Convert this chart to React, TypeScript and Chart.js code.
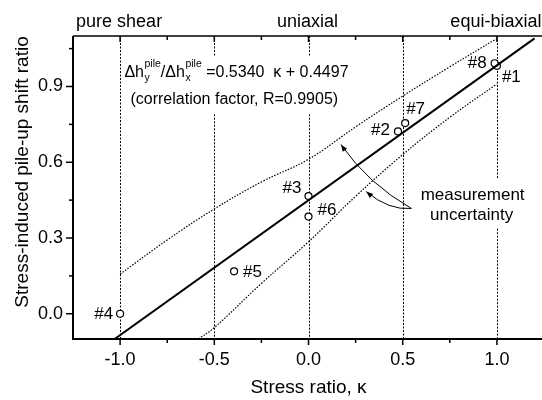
import React, { useEffect, useRef } from 'react';
import { Chart, registerables } from 'chart.js';

Chart.register(...registerables);

// ---- data ----
const pointLabels = ['#1', '#2', '#3', '#4', '#5', '#6', '#7', '#8'];
const pointKappa = [1.0, 0.475, 0.0, -1.0, -0.395, 0.0, 0.513, 0.988];
const pointRatio = [0.982, 0.722, 0.466, 0.0, 0.168, 0.385, 0.755, 0.992];

const fitKappa = [-1.029, 1.2];
const fitRatio = [-0.1, 1.0905];

const upperKappa = [-1, -0.75, -0.5, -0.25, 0, 0.25, 0.5, 0.75, 1];
const upperRatio = [0.157, 0.292, 0.415, 0.522, 0.612, 0.74, 0.862, 0.978, 1.09];
const lowerKappa = [-0.585, -0.5, -0.25, 0, 0.25, 0.5, 0.75, 1];
const lowerRatio = [-0.1, -0.055, 0.12, 0.285, 0.465, 0.63, 0.778, 0.91];

const xMajorTicks = [-1, -0.5, 0, 0.5, 1];
const xMinorTicks = [-0.75, -0.25, 0.25, 0.75];
const yMajorTicks = [0, 0.3, 0.6, 0.9];
const yMinorTicks = [0.15, 0.45, 0.75, 1.05];

const regimeLabels = ['pure shear', 'uniaxial', 'equi-biaxial'];
const regimeKappa = [-1, 0, 1];

const xTitle = 'Stress ratio, κ';
const yTitle = 'Stress-induced pile-up shift ratio';
const eqLine2 = '(correlation factor, R=0.9905)';
const eqTail = ' =0.5340  κ + 0.4497';
const noteLines = ['measurement', 'uncertainty'];

// ---- layout / style (not data) ----
const FONT = "'Liberation Sans', Arial, Helvetica, sans-serif";
const guideGaps: ([number, number] | null)[] = [null, [0.79, 1.02], [0.79, 1.02], null, [0.337, 0.535]];
// label offsets in px relative to the point: [dx, dy, align]
const labelOffsets: [number, number, CanvasTextAlign][] = [
  [5, 12, 'left'],
  [-8, -1, 'right'],
  [-7, -8, 'right'],
  [-7, 1, 'right'],
  [9, 1, 'left'],
  [9, -6, 'left'],
  [1, -14, 'left'],
  [-8, 0, 'right'],
];
const eqAnchor = { k: -0.977, r: 0.936 };
const eqLine2Anchor = { k: -0.945, r: 0.829 };
const noteAnchors = [{ k: 0.871, r: 0.469 }, { k: 0.866, r: 0.39 }];
const arrows = [
  { from: [0.546, 0.417], ctrl: [0.318, 0.514], to: [0.172, 0.67] },
  { from: [0.546, 0.417], ctrl: [0.426, 0.409], to: [0.306, 0.484] },
];

const overlay = {
  id: 'overlay',
  beforeDatasetsDraw(chart: any) {
    const { ctx, chartArea: a, scales } = chart;
    const x = scales.x, y = scales.y;
    ctx.save();
    ctx.strokeStyle = '#000';
    ctx.lineWidth = 1;
    ctx.setLineDash([2, 1.5]);
    xMajorTicks.forEach((k, i) => {
      const px = Math.round(x.getPixelForValue(k)) + 0.5;
      const gap = guideGaps[i];
      const segs = gap
        ? [[a.top, y.getPixelForValue(gap[1])], [y.getPixelForValue(gap[0]), a.bottom]]
        : [[a.top, a.bottom]];
      segs.forEach(([t, b]) => {
        ctx.beginPath();
        ctx.moveTo(px, t);
        ctx.lineTo(px, b);
        ctx.stroke();
      });
    });
    ctx.restore();
  },
  afterDraw(chart: any) {
    const { ctx, chartArea: a, scales } = chart;
    const x = scales.x, y = scales.y;
    ctx.save();
    ctx.strokeStyle = '#000';
    ctx.fillStyle = '#000';
    ctx.setLineDash([]);

    // frame
    ctx.lineWidth = 2;
    ctx.beginPath();
    ctx.moveTo(a.left, a.top);
    ctx.lineTo(a.left, a.bottom);
    ctx.lineTo(a.right, a.bottom);
    ctx.stroke();
    ctx.lineWidth = 1.5;
    ctx.beginPath();
    ctx.moveTo(a.left, a.top);
    ctx.lineTo(a.right, a.top);
    ctx.lineTo(a.right, a.bottom);
    ctx.stroke();

    // ticks
    ctx.lineWidth = 1.5;
    const tickX = (vals: number[], len: number) => {
      vals.forEach((v) => {
        const px = x.getPixelForValue(v);
        ctx.beginPath();
        ctx.moveTo(px, a.bottom);
        ctx.lineTo(px, a.bottom + len);
        ctx.stroke();
        ctx.beginPath();
        ctx.moveTo(px, a.top);
        ctx.lineTo(px, a.top + len);
        ctx.stroke();
      });
    };
    tickX(xMajorTicks, 6);
    tickX(xMinorTicks, 4);
    const tickY = (vals: number[], len: number) => {
      vals.forEach((v) => {
        const py = y.getPixelForValue(v);
        ctx.beginPath();
        ctx.moveTo(a.left, py);
        ctx.lineTo(a.left - len, py);
        ctx.stroke();
      });
    };
    tickY(yMajorTicks, 7);
    tickY(yMinorTicks, 4);

    // regime labels above the frame
    ctx.font = `18px ${FONT}`;
    ctx.textAlign = 'center';
    ctx.textBaseline = 'alphabetic';
    regimeLabels.forEach((t, i) => {
      ctx.fillText(t, x.getPixelForValue(regimeKappa[i]) - 1, 27);
    });

    // y title
    ctx.save();
    ctx.translate(23, 172);
    ctx.rotate(-Math.PI / 2);
    ctx.font = `19px ${FONT}`;
    ctx.textAlign = 'center';
    ctx.textBaseline = 'middle';
    ctx.fillText(yTitle, 0, 0);
    ctx.restore();

    // point labels
    ctx.font = `17px ${FONT}`;
    ctx.textBaseline = 'middle';
    pointLabels.forEach((t, i) => {
      const [dx, dy, al] = labelOffsets[i];
      ctx.textAlign = al;
      ctx.fillText(t, x.getPixelForValue(pointKappa[i]) + dx, y.getPixelForValue(pointRatio[i]) + dy);
    });

    // equation
    ctx.textAlign = 'left';
    ctx.textBaseline = 'alphabetic';
    let ex = x.getPixelForValue(eqAnchor.k);
    const ey = y.getPixelForValue(eqAnchor.r);
    const big = `16px ${FONT}`;
    const small = `10.5px ${FONT}`;
    const part = (s: string) => {
      ctx.font = big;
      ctx.fillText(s, ex, ey);
      ex += ctx.measureText(s).width;
    };
    const stack = (sub: string) => {
      ctx.font = small;
      ctx.fillText('pile', ex + 0.5, ey - 10);
      ctx.fillText(sub, ex + 0.5, ey + 4);
      ex += Math.max(ctx.measureText('pile').width, ctx.measureText(sub).width) + 0.5;
    };
    part('Δh');
    stack('y');
    part('/Δh');
    stack('x');
    part(eqTail);
    ctx.font = big;
    ctx.fillText(eqLine2, x.getPixelForValue(eqLine2Anchor.k), y.getPixelForValue(eqLine2Anchor.r));

    // measurement uncertainty note
    ctx.font = `17px ${FONT}`;
    ctx.textAlign = 'center';
    ctx.textBaseline = 'middle';
    noteLines.forEach((t, i) => {
      ctx.fillText(t, x.getPixelForValue(noteAnchors[i].k), y.getPixelForValue(noteAnchors[i].r));
    });

    // curved arrows
    ctx.lineWidth = 1;
    arrows.forEach((ar) => {
      const p0 = [x.getPixelForValue(ar.from[0]), y.getPixelForValue(ar.from[1])];
      const c = [x.getPixelForValue(ar.ctrl[0]), y.getPixelForValue(ar.ctrl[1])];
      const p2 = [x.getPixelForValue(ar.to[0]), y.getPixelForValue(ar.to[1])];
      ctx.beginPath();
      ctx.moveTo(p0[0], p0[1]);
      ctx.quadraticCurveTo(c[0], c[1], p2[0], p2[1]);
      ctx.stroke();
      const ang = Math.atan2(p2[1] - c[1], p2[0] - c[0]);
      const L = 7, W = 2.6;
      ctx.beginPath();
      ctx.moveTo(p2[0], p2[1]);
      ctx.lineTo(p2[0] - L * Math.cos(ang) + W * Math.sin(ang), p2[1] - L * Math.sin(ang) - W * Math.cos(ang));
      ctx.lineTo(p2[0] - L * Math.cos(ang) - W * Math.sin(ang), p2[1] - L * Math.sin(ang) + W * Math.cos(ang));
      ctx.closePath();
      ctx.fill();
    });

    ctx.restore();
  },
};

export default function App() {
  const ref = useRef<HTMLCanvasElement | null>(null);

  useEffect(() => {
    if (!ref.current) return;
    const chart = new Chart(ref.current, {
      type: 'scatter',
      data: {
        datasets: [
          {
            type: 'line',
            label: 'upper uncertainty',
            data: upperKappa.map((k, i) => ({ x: k, y: upperRatio[i] })),
            borderColor: '#000',
            borderWidth: 1.2,
            borderDash: [1.5, 1.5],
            pointRadius: 0,
            tension: 0.4,
            fill: false,
          },
          {
            type: 'line',
            label: 'lower uncertainty',
            data: lowerKappa.map((k, i) => ({ x: k, y: lowerRatio[i] })),
            borderColor: '#000',
            borderWidth: 1.2,
            borderDash: [1.5, 1.5],
            pointRadius: 0,
            tension: 0.4,
            fill: false,
          },
          {
            type: 'line',
            label: 'fit',
            data: fitKappa.map((k, i) => ({ x: k, y: fitRatio[i] })),
            borderColor: '#000',
            borderWidth: 2,
            pointRadius: 0,
            fill: false,
          },
          {
            type: 'scatter',
            label: 'measurements',
            data: pointKappa.map((k, i) => ({ x: k, y: pointRatio[i] })),
            pointRadius: 3.5,
            pointBorderWidth: 1.2,
            borderColor: '#000',
            backgroundColor: '#fff',
            pointStyle: 'circle',
          },
        ],
      } as any,
      options: {
        animation: false,
        responsive: false,
        maintainAspectRatio: false,
        layout: { padding: { top: 36, right: 6, left: 0, bottom: 0 } },
        plugins: { legend: { display: false }, tooltip: { enabled: false } },
        scales: {
          x: {
            type: 'linear',
            position: 'bottom',
            min: -1.25,
            max: 1.25,
            afterBuildTicks: (s: any) => {
              s.ticks = xMajorTicks.map((v) => ({ value: v }));
            },
            afterFit: (s: any) => {
              s.height = 61;
            },
            grid: { display: false, drawTicks: false },
            border: { display: false },
            ticks: {
              color: '#000',
              padding: 10,
              font: { family: FONT, size: 18 },
              maxRotation: 0,
              callback: (v: any) => Number(v).toFixed(1),
            },
            title: {
              display: true,
              text: xTitle,
              color: '#000',
              font: { family: FONT, size: 19 },
              padding: { top: 0, bottom: 1 },
            },
          },
          y: {
            type: 'linear',
            position: 'left',
            min: -0.1,
            max: 1.1,
            afterBuildTicks: (s: any) => {
              s.ticks = yMajorTicks.map((v) => ({ value: v }));
            },
            afterFit: (s: any) => {
              s.width = 73;
            },
            grid: { display: false, drawTicks: false },
            border: { display: false },
            ticks: {
              color: '#000',
              padding: 10,
              font: { family: FONT, size: 18 },
              callback: (v: any) => Number(v).toFixed(1),
            },
          },
        },
      } as any,
      plugins: [overlay],
    });
    return () => chart.destroy();
  }, []);

  return (
    <div
      style={{
        position: 'fixed',
        left: 0,
        top: 0,
        width: 542,
        height: 400,
        overflow: 'hidden',
        background: '#fff',
      }}
    >
      <canvas ref={ref} width={550} height={400} style={{ display: 'block', width: 550, height: 400 }} />
    </div>
  );
}
